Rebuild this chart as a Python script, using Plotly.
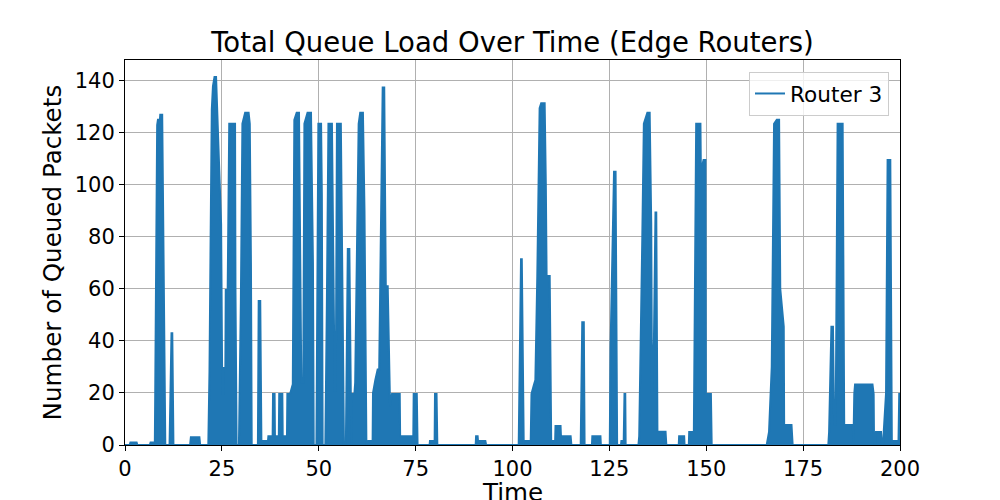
import plotly.graph_objects as go

time = [
    0, 1.2, 1.4, 3.0, 3.2, 6.4, 6.6, 7.7, 7.8, 8.0, 8.3, 8.5, 9.0, 9.1, 9.6, 9.9, 10.2, 10.4,
    11.5, 11.8, 12.0, 12.2, 12.4, 12.5, 16.8, 17.0, 19.2, 19.4,
    21.5, 21.8, 22.1, 22.4, 22.7, 23.1, 23.5, 23.9, 24.4, 24.8, 25.1, 25.4, 25.5, 25.9, 26.0,
    26.5, 26.9, 28.4, 28.5, 28.8, 29.4, 29.9, 30.3, 31.0, 31.9, 32.2, 32.5, 32.7,
    34.3, 34.5, 34.9, 35.1, 35.2, 36.9, 37.0, 38.1, 38.2, 38.6, 38.7, 39.7, 39.8, 40.6,
    40.7, 41.8, 41.9, 42.6, 43.3, 43.7, 44.3, 44.9, 45.1, 45.5, 46.0, 46.3, 47.1, 48.0,
    48.5, 48.7, 49.4, 49.9, 50.6, 50.8, 51.0, 51.7, 52.1, 52.5, 53.4, 53.8, 54.1, 54.4,
    54.7, 55.7, 56.2, 56.5, 57.0, 57.5, 57.9, 58.4, 58.6, 59.2, 59.4, 59.8, 60.3, 60.7,
    61.4, 61.8, 62.3, 62.7, 62.8, 63.9, 64.0, 64.6, 65.2, 65.6, 66.1, 66.5, 66.9, 67.3,
    67.8, 68.2, 68.4, 68.9, 70.9, 71.0, 74.4, 74.5, 75.3, 75.5, 78.6, 78.7, 79.6, 79.9,
    80.0, 80.4, 80.6, 90.5, 90.6, 91.0, 91.1, 93.0, 93.2, 101.6, 102.2, 102.4, 102.9,
    103.0, 104.7, 104.9, 105.5, 105.9, 106.4, 106.9, 107.0, 107.4, 108.3, 108.6, 108.8,
    109.6, 109.8, 110.0, 110.3, 111.0, 111.1, 112.4, 112.5, 115.0, 115.2, 117.6, 118.0,
    118.4, 118.6, 120.5, 120.6, 122.7, 122.8, 125.1, 125.3, 126.2, 126.6, 127.0, 128.0,
    128.1, 128.7, 128.9, 129.1, 129.2, 132.5, 132.7, 133.5, 133.9, 134.8, 135.4, 135.8,
    136.0, 136.5, 136.9, 137.1, 137.4, 139.5, 139.7, 142.9, 143.0, 144.3, 144.4, 145.5,
    145.6, 146.8, 147.1, 147.4, 148.5, 148.6, 149.0, 149.3, 149.8, 149.9, 151.2, 151.4,
    165.6, 165.8, 166.2, 166.9, 167.4, 167.5, 168.2, 168.8, 169.1, 170.0, 170.1, 172.0,
    172.3, 181.5, 181.7, 182.3, 182.7, 183.0, 183.4, 183.9, 185.2, 185.4, 185.6, 187.8,
    188.0, 188.2, 188.4, 192.9, 193.2, 193.3, 193.7, 193.8, 195.1, 195.3, 195.6, 196.4,
    196.8, 197.5, 197.9, 198.1, 199.4, 199.6, 199.8, 200,
]
queue_load = [
    0, 0, 1, 1, 0, 0, 1, 1, 20, 65, 123, 125, 125, 127, 127, 80, 28, 0,
    0, 30, 43, 43, 20, 0, 0, 3, 3, 0,
    0, 28, 80, 129, 138, 141.5, 141.5, 123.5, 109.6, 85, 19.6, 19.6, 29.6, 29.6, 59.6,
    59.6, 123.5, 123.5, 61, 0, 0, 55, 123.5, 127.7, 127.7, 123.5, 70, 0,
    0, 55.4, 55.4, 10, 1.5, 1.5, 3.4, 3.4, 19.6, 19.6, 3.4, 3.4, 19.6, 19.6,
    3.4, 3.4, 19.6, 19.6, 23.3, 125, 127.7, 127.7, 83, 24, 24, 123.5, 127.7, 127.7,
    70, 0, 0, 123.5, 123.5, 96, 0, 0, 55, 123.5, 123.5, 65, 21, 21,
    123.5, 123.5, 28, 0, 0, 75.3, 75.3, 0, 19.6, 19.6, 24, 70, 123.5, 127.7,
    127.7, 90, 0, 0, 1.5, 1.5, 20, 25, 29, 29, 100, 137.4, 137.4, 61,
    61, 29, 15, 19.6, 19.6, 3.4, 3.4, 19.6, 19.6, 0, 0, 1.5, 1.5, 0,
    19.6, 19.6, 0, 0, 3.4, 3.4, 1.5, 1.5, 0, 0, 71.4, 71.4, 0,
    1.5, 1.5, 19.6, 23, 25, 65, 110, 129.5, 131.4, 131.4, 100, 65,
    65, 20, 0, 1.5, 1.5, 7.3, 7.3, 3.4, 3.4, 0, 0, 47.2,
    47.2, 0, 0, 3.4, 3.4, 0, 0, 37, 105, 105, 0, 0,
    1.5, 1.5, 19.6, 19.6, 0, 0, 3.4, 80, 123.5, 127.7, 127.7, 85,
    20, 40, 89.4, 89.4, 5.1, 5.1, 0, 0, 3.4, 3.4, 0, 0,
    5, 5, 60, 123.5, 123.5, 107.7, 107.7, 109.6, 109.6, 19.6, 19.6, 0,
    0, 2, 5, 30, 100, 123.5, 125, 125, 60, 45.5, 7.7, 7.7,
    0, 0, 5, 45.5, 45.5, 8, 8, 123.5, 123.5, 40, 7.7, 7.7,
    1.5, 19.6, 23.3, 23.3, 19.6, 0, 0, 5, 5, 0, 0, 20,
    109.6, 109.6, 0, 1.5, 1.5, 0, 19.6, 19.6,
]
x_ticks = [0, 25, 50, 75, 100, 125, 150, 175, 200]
y_ticks = [0, 20, 40, 60, 80, 100, 120, 140]

blue = "#1f77b4"
font = "DejaVu Sans"

fig = go.Figure()
fig.add_trace(go.Scatter(
    x=time, y=queue_load, mode="lines",
    line=dict(color=blue, width=2),
    fill="tozeroy", fillcolor=blue,
    showlegend=False,
))
# legend entry drawn as a plain line, like the original
fig.add_trace(go.Scatter(
    x=[None], y=[None], mode="lines", name="Router 3",
    line=dict(color=blue, width=2),
))

axis_style = dict(
    showgrid=True, gridcolor="#b0b0b0", gridwidth=1,
    showline=True, linecolor="black", linewidth=1, mirror=True,
    ticks="outside", ticklen=5, tickcolor="black",
    tickfont=dict(size=21, color="black", family=font),
    zeroline=False,
)

# page body has an 8px margin, so the figure is 8px smaller than the window
fig.update_layout(
    width=992, height=492,
    margin=dict(l=117, r=100, t=52, b=55),
    paper_bgcolor="white", plot_bgcolor="white",
    font=dict(family=font, color="black"),
    title=dict(
        text="Total Queue Load Over Time (Edge Routers)",
        x=0.5086, xanchor="center", y=0.931, yanchor="middle",
        font=dict(size=27.5, family=font, color="black"),
    ),
    xaxis=dict(range=[0, 200], tickvals=x_ticks, **axis_style),
    yaxis=dict(range=[0, 148], tickvals=y_ticks, **axis_style),
    legend=dict(
        x=0.9858, xanchor="right", y=0.969, yanchor="top",
        bgcolor="rgba(255,255,255,0.8)", bordercolor="#cccccc", borderwidth=1,
        font=dict(size=21.6, family=font, color="black"),
    ),
    annotations=[
        dict(text="Time", x=0.5, y=-0.081, xref="paper", yref="paper",
             xanchor="center", yanchor="top", showarrow=False,
             font=dict(size=24.6, family=font, color="black")),
        dict(text="Number of Queued Packets", x=-0.093, y=0.5,
             xref="paper", yref="paper", textangle=-90,
             xanchor="center", yanchor="middle", showarrow=False,
             font=dict(size=24.6, family=font, color="black")),
    ],
)

fig.write_html("out.html")
